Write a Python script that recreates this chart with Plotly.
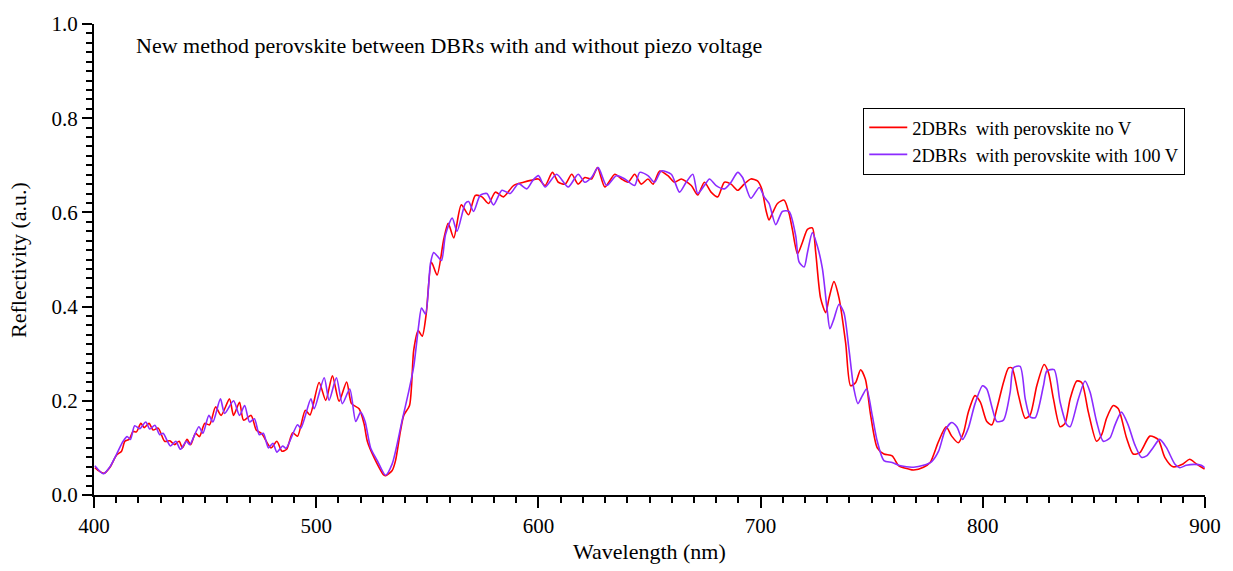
import plotly.graph_objects as go

# ---- data ----
red_wl = [400.4, 401.9, 404.5, 407.2, 410.2, 412.4, 413.9, 415.8, 417.6, 419.1, 421.1, 422.6, 424.8, 426.6,
          428.9, 431.8, 434.1, 436.3, 438.3, 439.8, 441.9, 443.5, 445.7, 447.5, 449.8, 452.0, 454.7, 457.2,
          461.0, 462.8, 465.5, 467.3, 470.7, 473.0, 475.5, 479.7, 482.3, 484.6, 486.7, 489.4, 491.6, 495.1,
          497.2, 501.3, 504.3, 507.3, 510.3, 513.7, 515.9, 519.3, 521.5, 523.0, 526.0, 530.5, 531.3, 534.2,
          535.7, 537.9, 539.4, 542.0, 543.9, 545.9, 547.7, 549.5, 551.9, 554.4, 557.4, 559.4, 561.9, 565.3,
          568.6, 571.6, 574.6, 577.6, 580.6, 584.3, 588.8, 593.3, 596.5, 600.0, 603.0, 606.3, 609.0, 612.0,
          615.0, 617.9, 620.9, 623.9, 626.6, 629.9, 634.4, 637.4, 640.4, 643.3, 646.3, 649.3, 651.6, 654.6,
          658.3, 661.3, 664.3, 668.8, 671.7, 674.7, 677.7, 680.7, 683.7, 686.7, 689.7, 692.6, 695.6, 698.6,
          700.5, 702.4, 703.8, 705.3, 707.6, 710.6, 712.8, 714.3, 716.6, 718.8, 721.1, 723.3, 724.8, 727.0,
          729.3, 730.8, 733.0, 735.3, 738.3, 740.5, 742.8, 745.0, 747.2, 749.5, 752.5, 755.5, 759.2, 762.2,
          766.7, 768.9, 773.3, 776.3, 780.1, 783.5, 786.0, 789.0, 791.3, 793.5, 796.5, 798.9, 801.8, 804.1,
          806.3, 809.3, 811.6, 813.1, 816.1, 819.1, 821.3, 824.3, 827.6, 829.6, 831.8, 834.8, 837.0, 839.3,
          842.3, 844.5, 847.5, 851.2, 853.5, 855.7, 858.7, 861.0, 864.7, 867.7, 870.7, 875.2, 878.9, 881.9,
          885.6, 890.1, 893.1, 896.1, 899.8]
red_r = [0.058, 0.052, 0.046, 0.059, 0.085, 0.093, 0.114, 0.118, 0.135, 0.134, 0.152, 0.143, 0.152, 0.138,
         0.142, 0.114, 0.115, 0.107, 0.114, 0.100, 0.118, 0.107, 0.131, 0.124, 0.152, 0.149, 0.187, 0.169,
         0.204, 0.169, 0.197, 0.159, 0.169, 0.138, 0.130, 0.100, 0.114, 0.093, 0.097, 0.132, 0.125, 0.180,
         0.170, 0.239, 0.201, 0.253, 0.199, 0.240, 0.194, 0.183, 0.152, 0.114, 0.080, 0.042, 0.041, 0.052,
         0.073, 0.135, 0.169, 0.190, 0.308, 0.349, 0.337, 0.384, 0.494, 0.467, 0.543, 0.577, 0.546, 0.616,
         0.595, 0.636, 0.633, 0.619, 0.643, 0.633, 0.657, 0.664, 0.668, 0.671, 0.657, 0.685, 0.664, 0.660,
         0.681, 0.660, 0.674, 0.671, 0.695, 0.654, 0.681, 0.671, 0.664, 0.681, 0.660, 0.671, 0.660, 0.688,
         0.678, 0.664, 0.671, 0.657, 0.637, 0.664, 0.643, 0.633, 0.664, 0.660, 0.647, 0.660, 0.671, 0.667,
         0.650, 0.605, 0.584, 0.598, 0.619, 0.626, 0.598, 0.564, 0.512, 0.536, 0.564, 0.567, 0.515, 0.418,
         0.387, 0.418, 0.453, 0.418, 0.322, 0.232, 0.239, 0.266, 0.245, 0.170, 0.100, 0.087, 0.083, 0.062,
         0.055, 0.053, 0.059, 0.069, 0.114, 0.145, 0.125, 0.111, 0.132, 0.176, 0.211, 0.197, 0.156, 0.149,
         0.183, 0.239, 0.270, 0.270, 0.211, 0.163, 0.170, 0.232, 0.277, 0.259, 0.204, 0.145, 0.152, 0.204,
         0.242, 0.239, 0.176, 0.114, 0.128, 0.163, 0.190, 0.183, 0.121, 0.087, 0.090, 0.125, 0.118, 0.080,
         0.060, 0.066, 0.076, 0.066, 0.055]

purple_wl = [400.4, 404.2, 407.2, 410.2, 413.1, 414.9, 416.4, 418.3, 420.6, 423.3, 425.1, 427.4, 429.6, 431.1,
             434.4, 436.8, 438.9, 441.6, 443.1, 447.2, 449.0, 451.7, 453.5, 456.9, 458.8, 462.8, 465.5, 467.8,
             470.0, 472.2, 474.4, 476.2, 478.5, 480.5, 482.3, 484.9, 486.4, 491.6, 493.1, 497.6, 499.1, 503.6,
             505.8, 509.1, 511.8, 515.1, 517.8, 520.0, 522.0, 524.5, 527.5, 531.2, 534.2, 538.7, 541.7, 543.9,
             546.2, 547.4, 549.2, 551.4, 552.9, 554.4, 556.4, 558.2, 561.2, 563.4, 567.1, 568.6, 570.8, 573.8,
             576.8, 579.8, 583.6, 587.3, 591.0, 594.8, 597.5, 600.0, 603.0, 608.2, 613.4, 617.9, 620.9, 623.9,
             626.9, 630.7, 635.1, 638.9, 643.3, 645.6, 649.3, 652.3, 655.3, 659.8, 663.5, 666.5, 669.5, 671.7,
             674.7, 677.0, 680.0, 683.7, 686.7, 689.7, 691.9, 695.6, 699.4, 701.6, 703.8, 706.8, 709.8, 712.8,
             715.8, 717.3, 719.6, 721.1, 723.3, 725.5, 727.8, 730.0, 731.2, 733.0, 735.3, 737.5, 739.8, 742.0,
             743.8, 745.8, 747.7, 750.2, 752.5, 755.5, 759.2, 763.0, 768.9, 773.3, 777.0, 780.1, 783.1, 786.0,
             788.3, 790.9, 793.5, 796.5, 799.9, 801.8, 804.1, 806.3, 809.3, 812.3, 813.8, 816.8, 819.1, 821.3,
             823.6, 827.3, 828.8, 832.1, 834.8, 837.8, 839.3, 843.0, 846.0, 848.3, 851.2, 854.2, 857.2, 859.5,
             862.4, 865.4, 868.4, 871.4, 873.7, 876.7, 879.6, 882.6, 886.4, 888.6, 891.6, 895.4, 898.3, 899.8]
purple_r = [0.062, 0.045, 0.060, 0.087, 0.114, 0.124, 0.118, 0.147, 0.141, 0.155, 0.140, 0.148, 0.128, 0.131,
            0.104, 0.114, 0.097, 0.114, 0.107, 0.145, 0.131, 0.169, 0.155, 0.204, 0.173, 0.200, 0.169, 0.190,
            0.155, 0.162, 0.128, 0.131, 0.100, 0.110, 0.091, 0.104, 0.099, 0.149, 0.142, 0.204, 0.183, 0.249,
            0.201, 0.249, 0.194, 0.225, 0.156, 0.176, 0.156, 0.100, 0.073, 0.042, 0.066, 0.159, 0.221, 0.273,
            0.363, 0.397, 0.384, 0.491, 0.515, 0.508, 0.498, 0.553, 0.588, 0.560, 0.619, 0.623, 0.602, 0.636,
            0.640, 0.616, 0.647, 0.640, 0.661, 0.650, 0.668, 0.678, 0.654, 0.681, 0.654, 0.681, 0.664, 0.674,
            0.695, 0.657, 0.678, 0.671, 0.657, 0.685, 0.678, 0.664, 0.688, 0.681, 0.643, 0.664, 0.681, 0.640,
            0.657, 0.671, 0.657, 0.650, 0.664, 0.685, 0.674, 0.630, 0.653, 0.633, 0.619, 0.574, 0.602, 0.602,
            0.550, 0.495, 0.484, 0.515, 0.557, 0.529, 0.481, 0.391, 0.353, 0.374, 0.405, 0.387, 0.308, 0.225,
            0.194, 0.211, 0.225, 0.170, 0.114, 0.073, 0.069, 0.062, 0.059, 0.063, 0.071, 0.093, 0.138, 0.154,
            0.145, 0.118, 0.142, 0.194, 0.232, 0.225, 0.187, 0.156, 0.159, 0.218, 0.270, 0.273, 0.204, 0.166,
            0.164, 0.232, 0.263, 0.266, 0.197, 0.149, 0.145, 0.204, 0.242, 0.218, 0.156, 0.114, 0.121, 0.149,
            0.176, 0.149, 0.107, 0.080, 0.083, 0.101, 0.118, 0.101, 0.066, 0.058, 0.063, 0.065, 0.063, 0.058]

series_names = ["2DBRs\u00a0 with perovskite no V", "2DBRs\u00a0 with perovskite with 100 V"]
series_colors = ["#FF0000", "#8C2BFF"]
title_text = "New method perovskite between DBRs with and without piezo voltage"
x_title = "Wavelength (nm)"
y_title = "Reflectivity (a.u.)"
x_ticks = [400, 500, 600, 700, 800, 900]
y_ticks = [0.0, 0.2, 0.4, 0.6, 0.8, 1.0]

FONT = "Liberation Serif, Times New Roman, serif"

fig = go.Figure()
fig.add_trace(go.Scatter(x=red_wl, y=red_r, mode="lines", name=series_names[0],
                         line=dict(color=series_colors[0], width=1.6, shape="spline", smoothing=0.7)))
fig.add_trace(go.Scatter(x=purple_wl, y=purple_r, mode="lines", name=series_names[1],
                         line=dict(color=series_colors[1], width=1.6, shape="spline", smoothing=0.7)))

axis_common = dict(showline=True, linecolor="black", linewidth=2, showgrid=False, zeroline=False,
                   ticks="outside", tickcolor="black", tickwidth=2,
                   tickfont=dict(family=FONT, size=21, color="black"))

fig.update_xaxes(range=[400, 900], tickvals=x_ticks, ticktext=[str(v) for v in x_ticks], ticklen=11,
                 minor=dict(dtick=10, ticks="outside", ticklen=6, tickwidth=1.5, tickcolor="black"),
                 **axis_common)
fig.update_yaxes(range=[0, 1], tickvals=y_ticks, ticktext=[f"{v:.1f}" for v in y_ticks], ticklen=10,
                 minor=dict(dtick=0.02, ticks="outside", ticklen=6, tickwidth=1.5, tickcolor="black"),
                 **axis_common)

fig.update_layout(
    width=1233, height=571,
    margin=dict(l=94, r=24, t=13, b=76),
    paper_bgcolor="white", plot_bgcolor="white",
    font=dict(family=FONT, color="black"),
    showlegend=True,
    legend=dict(x=0.6924, y=0.822, xanchor="left", yanchor="top",
                bordercolor="black", borderwidth=1, bgcolor="white",
                font=dict(family=FONT, size=18.5, color="black"),
                tracegroupgap=0, itemwidth=38),
    annotations=[
        dict(text=title_text, xref="paper", yref="paper", x=0.0359, y=0.955,
             xanchor="left", yanchor="middle", showarrow=False,
             font=dict(family=FONT, size=22, color="black")),
        dict(text=x_title, xref="paper", yref="paper", x=0.5, y=-0.12,
             xanchor="center", yanchor="middle", showarrow=False,
             font=dict(family=FONT, size=22, color="black")),
        dict(text=y_title, xref="paper", yref="paper", x=-0.068, y=0.5,
             xanchor="center", yanchor="middle", showarrow=False, textangle=-90,
             font=dict(family=FONT, size=22, color="black")),
    ],
)

fig.write_html("out.html")
